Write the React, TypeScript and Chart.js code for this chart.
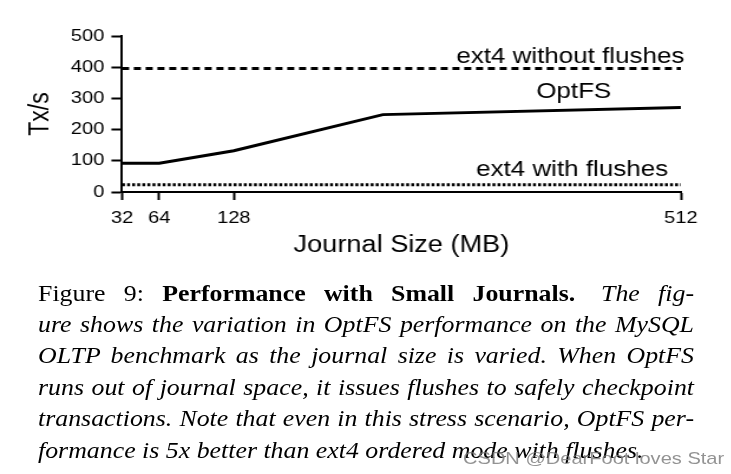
import React, { useEffect, useRef } from "react";
import { Chart, registerables } from "chart.js";

Chart.register(...registerables);

// ---- data ----
const optfsSizes: number[] = [32, 64, 128, 256, 512];
const optfsTx: number[] = [92, 92, 132, 248, 271];
const ext4NoFlushSizes: number[] = [32, 512];
const ext4NoFlushTx: number[] = [396, 396];
const ext4FlushSizes: number[] = [32, 512];
const ext4FlushTx: number[] = [23, 23];
const xTickValues: number[] = [32, 64, 128, 512];
const yTickValues: number[] = [0, 100, 200, 300, 400, 500];

// in-plot labels (anchored in data units)
const labelTexts: string[] = ["ext4 without flushes", "OptFS", "ext4 with flushes"];
const labelSizes: number[] = [515, 420, 501];
const labelTx: number[] = [415, 301, 50];
const labelAligns: CanvasTextAlign[] = ["right", "center", "right"];

const FONT = '"Liberation Sans", Arial, Helvetica, sans-serif';
const SERIF = '"Liberation Serif", "Times New Roman", Times, serif';
const STRETCH = 1.18;
const CAP_STRETCH = 1.1;
const W = 620;
const H = 270;

const labelPlugin = {
  id: "inPlotLabels",
  afterDraw(chart: any) {
    const { ctx, scales } = chart;
    ctx.save();
    ctx.fillStyle = "#000";
    ctx.font = `22px ${FONT}`;
    ctx.textBaseline = "alphabetic";
    labelTexts.forEach((t, i) => {
      ctx.textAlign = labelAligns[i];
      ctx.fillText(t, scales.x.getPixelForValue(labelSizes[i]), scales.y.getPixelForValue(labelTx[i]));
    });
    ctx.restore();
  },
};

export default function App() {
  const ref = useRef<HTMLCanvasElement | null>(null);

  useEffect(() => {
    if (!ref.current) return;
    const toXY = (xs: number[], ys: number[]) => xs.map((x, i) => ({ x, y: ys[i] }));
    const chart = new Chart(ref.current, {
      type: "line",
      data: {
        datasets: [
          {
            label: "ext4 without flushes",
            data: toXY(ext4NoFlushSizes, ext4NoFlushTx),
            borderColor: "#000",
            borderWidth: 3,
            borderDash: [6, 4],
            pointRadius: 0,
            fill: false,
          },
          {
            label: "OptFS",
            data: toXY(optfsSizes, optfsTx),
            borderColor: "#000",
            borderWidth: 3,
            pointRadius: 0,
            fill: false,
          },
          {
            label: "ext4 with flushes",
            data: toXY(ext4FlushSizes, ext4FlushTx),
            borderColor: "#000",
            borderWidth: 3,
            borderDash: [2.5, 1.8],
            pointRadius: 0,
            fill: false,
          },
        ],
      },
      options: {
        animation: false,
        responsive: false,
        events: [],
        layout: { padding: { left: 0, right: 43, top: 36, bottom: 0 } },
        plugins: { legend: { display: false }, tooltip: { enabled: false } },
        scales: {
          x: {
            type: "linear",
            min: 32,
            max: 512,
            afterBuildTicks: (s: any) => {
              s.ticks = xTickValues.map((v) => ({ value: v }));
            },
            afterFit: (s: any) => {
              s.height = 78;
            },
            ticks: {
              color: "#000",
              font: { family: FONT, size: 17 },
              padding: 8,
              maxRotation: 0,
              autoSkip: false,
              callback: (v: any) => String(v),
            },
            grid: {
              drawOnChartArea: false,
              drawTicks: true,
              tickLength: 8,
              tickWidth: 2,
              tickColor: "#000",
            },
            border: { display: true, color: "#000", width: 2 },
            title: {
              display: true,
              text: "Journal Size (MB)",
              color: "#000",
              font: { family: FONT, size: 23 },
              padding: { top: 0, bottom: 11 },
            },
          },
          y: {
            type: "linear",
            min: 0,
            max: 500,
            afterBuildTicks: (s: any) => {
              s.ticks = yTickValues.map((v) => ({ value: v }));
            },
            afterFit: (s: any) => {
              s.width = 103.4;
            },
            ticks: {
              color: "#000",
              font: { family: FONT, size: 17 },
              padding: 6,
              callback: (v: any) => String(v),
            },
            grid: {
              drawOnChartArea: false,
              drawTicks: true,
              tickLength: 9,
              tickWidth: 2,
              tickColor: "#000",
            },
            border: { display: true, color: "#000", width: 2 },
            title: {
              display: true,
              text: "Tx/s",
              color: "#000",
              font: { family: FONT, size: 23 },
              padding: { top: 21, bottom: 0 },
            },
          },
        },
      },
      plugins: [labelPlugin],
    });
    return () => chart.destroy();
  }, []);

  const line: React.CSSProperties = {
    textAlign: "justify",
    textAlignLast: "justify" as any,
    whiteSpace: "nowrap",
  };

  return (
    <div style={{ position: "absolute", left: 0, top: 0, width: 731, height: 474, background: "#fff" }}>
      <div
        style={{
          position: "absolute",
          left: 0,
          top: 0,
          width: W,
          height: 474,
          transform: `scaleX(${STRETCH})`,
          transformOrigin: "0 0",
        }}
      >
        <canvas ref={ref} width={W} height={H} style={{ display: "block", width: W, height: H }} />
      </div>
      <div
        style={{
          position: "absolute",
          left: 38,
          top: 277.5,
          width: 656 / CAP_STRETCH,
          transform: `scaleX(${CAP_STRETCH})`,
          transformOrigin: "0 0",
          fontFamily: SERIF,
          fontSize: 23.5,
          lineHeight: "31.4px",
          color: "#000",
        }}
      >
        <div style={line}>
          <span>Figure 9:</span> <b>Performance with Small Journals.</b>{"\u2003"}
          <i>The fig-</i>
        </div>
        <div style={line}>
          <i>ure shows the variation in OptFS performance on the MySQL</i>
        </div>
        <div style={line}>
          <i>OLTP benchmark as the journal size is varied.  When OptFS</i>
        </div>
        <div style={line}>
          <i>runs out of journal space, it issues flushes to safely checkpoint</i>
        </div>
        <div style={line}>
          <i>transactions. Note that even in this stress scenario, OptFS per-</i>
        </div>
        <div style={{ whiteSpace: "nowrap" }}>
          <i>formance is 5x better than ext4 ordered mode with flushes.</i>
        </div>
      </div>
      <div
        style={{
          position: "absolute",
          left: 0,
          top: 0,
          width: W,
          transform: `scaleX(${STRETCH})`,
          transformOrigin: "0 0",
        }}
      >
        <div
          style={{
            position: "absolute",
            left: 392.4,
            top: 449.6,
            fontFamily: FONT,
            fontSize: 17,
            lineHeight: 1,
            color: "rgba(120,120,120,0.8)",
            whiteSpace: "nowrap",
          }}
        >
          CSDN @DearFoot loves Star
        </div>
      </div>
    </div>
  );
}
